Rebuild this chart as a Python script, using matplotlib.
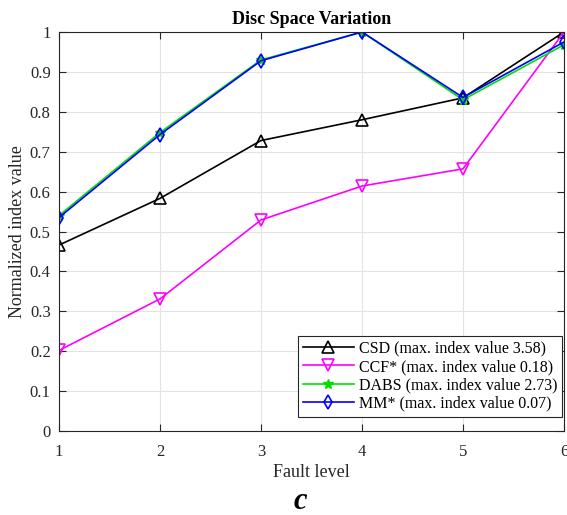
import numpy as np
import matplotlib.pyplot as plt

plt.rcParams['font.family'] = ['Liberation Serif', 'DejaVu Serif']

fault_level = [1, 2, 3, 4, 5, 6]
csd = [0.466, 0.583, 0.728, 0.780, 0.835, 1.0]
ccf = [0.202, 0.331, 0.529, 0.614, 0.657, 1.0]
dabs = [0.540, 0.748, 0.930, 1.0, 0.830, 0.968]
mm = [0.535, 0.743, 0.928, 1.0, 0.836, 0.975]

labels = ['CSD (max. index value 3.58)',
          'CCF* (max. index value 0.18)',
          'DABS (max. index value 2.73)',
          'MM* (max. index value 0.07)']

fig = plt.figure(figsize=(5.67, 5.15), dpi=100)
ax = fig.add_axes([59/567, 1 - 431/515, (564-59)/567, (431-32)/515])

ax.plot(fault_level, csd, color='black', lw=1.2, marker='^', ms=8,
        mfc='none', mec='black', mew=1.2, label=labels[0])
ax.plot(fault_level, ccf, color='magenta', lw=1.2, marker='v', ms=8,
        mfc='none', mec='magenta', mew=1.2, label=labels[1])
ax.plot(fault_level, dabs, color='#00e000', lw=1.2, marker='*', ms=7,
        mfc='#00e000', mec='#00e000', label=labels[2])
ax.plot(fault_level, mm, color='blue', lw=1.2, marker='d', ms=7,
        mfc='none', mec='blue', mew=1.2, label=labels[3])

ax.set_xlim(1, 6)
ax.set_ylim(0, 1)
ax.set_xticks(fault_level)
ax.set_yticks(np.arange(0, 1.01, 0.1))
ax.set_yticklabels(['0', '0.1', '0.2', '0.3', '0.4', '0.5', '0.6', '0.7', '0.8', '0.9', '1'])
ax.tick_params(direction='in', top=True, right=True, labelsize=12, length=5,
               color='#262626', labelcolor='#262626')
ax.tick_params(axis='x', pad=9)
ax.tick_params(axis='y', pad=6)
ax.grid(True, color='#e3e3e3', lw=0.8)
for s in ax.spines.values():
    s.set_color('#262626')
    s.set_linewidth(0.8)

ax.set_xlabel('Fault level', fontsize=13, color='#262626', labelpad=3)
ax.set_ylabel('Normalized index value', fontsize=13, color='#262626', labelpad=3)
ax.set_title('Disc Space Variation', fontsize=13, fontweight='bold', pad=6)

leg = ax.legend(loc='lower right', fontsize=11.5, fancybox=False, framealpha=1,
                edgecolor='#262626', handlelength=3.2, borderpad=0.3,
                labelspacing=0.15, handletextpad=0.3, borderaxespad=0.6,
                bbox_to_anchor=(1.015, 0.012))
leg.get_frame().set_linewidth(0.8)

fig.text(300/567, 1 - 509/515, 'c', fontsize=22, fontstyle='italic',
         fontweight='bold', ha='center', va='baseline')

fig.savefig('out.png', dpi=100)
